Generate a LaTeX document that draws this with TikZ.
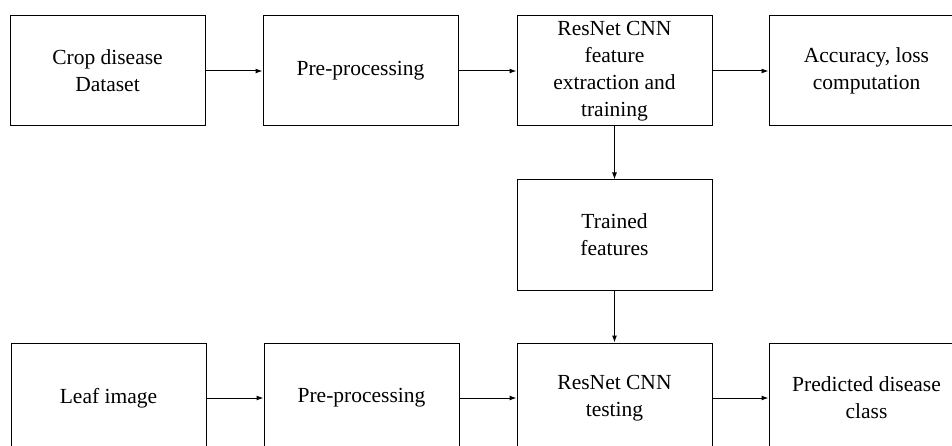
\documentclass[tikz,border=0pt]{standalone}
\usepackage{fontspec}
\setmainfont{Liberation Serif}
\usetikzlibrary{arrows.meta}

\begin{document}
\begin{tikzpicture}[x=1pt,y=-1pt,
    box/.style={draw, line width=1pt, align=center, minimum width=195pt, minimum height=110pt,
        inner sep=0pt, font=\fontsize{21.5}{27}\selectfont},
    >={Latex[length=7pt,width=5pt]}]
    \useasboundingbox (0,0) rectangle (952,446);
    \clip (0,0) rectangle (952,446);
    \node[box] (1) at (107.5,71) {Crop disease\\Dataset};
    \node[box] (2) at (360.5,71) {Pre-processing};
    \node[box] (3) at (614.5,71) {ResNet CNN\\feature\\extraction and\\training};
    \node[box] (4) at (866.5,71) {Accuracy, loss\\computation};
    \node[box] (5) at (614.5,235) {Trained\\features};
    \node[box] (6) at (108.5,398) {Leaf image};
    \node[box] (7) at (361.5,398) {Pre-processing};
    \node[box] (8) at (614.5,398) {ResNet CNN\\testing};
    \node[box] (9) at (866.5,398) {Predicted disease\\class};
    \path[->, line width=1pt] (1) edge (2);
    \path[->, line width=1pt] (2) edge (3);
    \path[->, line width=1pt] (3) edge (4);
    \path[->, line width=1pt] (3) edge (5);
    \path[->, line width=1pt] (5) edge (8);
    \path[->, line width=1pt] (6) edge (7);
    \path[->, line width=1pt] (7) edge (8);
    \path[->, line width=1pt] (8) edge (9);
\end{tikzpicture}
\end{document}
